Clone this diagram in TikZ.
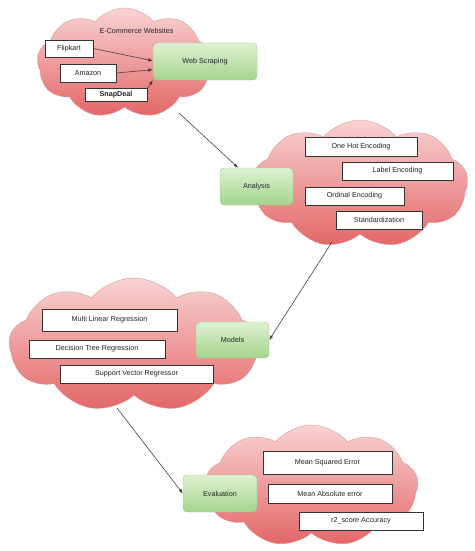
\documentclass[tikz,border=0pt]{standalone}
\usepackage{fontspec}
\setmainfont{Liberation Sans}
\usetikzlibrary{shapes.symbols,arrows.meta,calc}
\definecolor{cloudtop}{HTML}{F8D2D2}
\definecolor{cloudbot}{HTML}{E46666}
\definecolor{cloudline}{HTML}{D99A9A}
\definecolor{greentop}{HTML}{DDF1D2}
\definecolor{greenbot}{HTML}{A4D48C}
\definecolor{greenline}{HTML}{9CC78A}
\definecolor{boxline}{HTML}{333333}
\definecolor{arrowcol}{HTML}{404040}
\definecolor{txt}{HTML}{222222}
\begin{document}
\begin{tikzpicture}[x=1pt,y=-1pt,
  font=\fontsize{7.2}{8.6}\selectfont, text=txt,
  cloudbg/.style={cloud, cloud puffs=9, cloud puff arc=100, draw=cloudline, top color=cloudtop, bottom color=cloudbot, inner sep=0pt},
  greenbox/.style={draw=greenline, rounded corners=4pt, top color=greentop, bottom color=greenbot, inner sep=0pt},
  whitebox/.style={draw=boxline, fill=white, inner sep=0pt, line width=0.6pt},
  conn/.style={draw=arrowcol, line width=0.6pt, -{Latex[length=4.5pt,width=3.5pt]}},
]
\useasboundingbox (0,0) rectangle (474,551);
% clouds
\node[cloudbg, minimum width=175pt, minimum height=110pt] (c1) at (124.5,63) {};
\node[cloudbg, minimum width=216pt, minimum height=128pt] (c2) at (360,184) {};
\node[cloudbg, minimum width=250pt, minimum height=134pt] (c3) at (134,345) {};
\node[cloudbg, minimum width=213pt, minimum height=122pt] (c4) at (311.5,486) {};
% cloud 1
\node (ecom) at (136.5,31) {E-Commerce Websites};
\node[whitebox, minimum width=48pt, minimum height=17pt] (flip) at (69,48.5) {Flipkart};
\node[whitebox, minimum width=56pt, minimum height=18pt] (amaz) at (88,73) {Amazon};
\node[whitebox, minimum width=62pt, minimum height=13pt, font=\fontsize{7.2}{8.6}\selectfont\bfseries] (snap) at (116,94.5) {SnapDeal};
\node[greenbox, minimum width=104pt, minimum height=37pt] (web) at (205,61.5) {Web Scraping};
% cloud 2
\node[greenbox, minimum width=73pt, minimum height=37pt] (ana) at (256.5,186.5) {Analysis};
\node[whitebox, minimum width=112pt, minimum height=19pt] (ohe) at (361,146.5) {One Hot Encoding};
\node[whitebox, minimum width=111pt, minimum height=18pt] (le) at (397.5,171) {Label Encoding};
\node[whitebox, minimum width=99pt, minimum height=18pt] (oe) at (354.5,196) {Ordinal Encoding};
\node[whitebox, minimum width=86pt, minimum height=18pt] (std) at (379,220) {Standardization};
% cloud 3
\node[whitebox, minimum width=135pt, minimum height=22pt] (mlr) at (109.5,320) {Multi Linear Regression};
\node[whitebox, minimum width=136pt, minimum height=18pt] (dtr) at (97,349) {Decision Tree Regression};
\node[whitebox, minimum width=153pt, minimum height=18pt] (svr) at (136.5,374) {Support Vector Regressor};
\node[greenbox, minimum width=73pt, minimum height=36pt] (mod) at (232.5,340) {Models};
% cloud 4
\node[greenbox, minimum width=74pt, minimum height=37pt] (eval) at (220,493.5) {Evaluation};
\node[whitebox, minimum width=129pt, minimum height=23pt] (mse) at (327.5,462.5) {Mean Squared Error};
\node[whitebox, minimum width=124pt, minimum height=19pt] (mae) at (330,493.5) {Mean Absolute error};
\node[whitebox, minimum width=124pt, minimum height=18pt] (r2) at (361,521) {r2\_score Accuracy};
% connectors
\coordinate (s1) at (179,113);
\coordinate (s2) at (332,242);
\coordinate (s3) at (117,408);
\draw[conn] (flip.east) -- ($(web.north west)!0.48!(web.south west)$);
\draw[conn] (amaz.east) -- ($(web.north west)!0.72!(web.south west)$);
\draw[conn] ($(snap.north east)+(0,1)$) -- (web.south west);
\draw[conn] (s1) -- ($(ana.north west)!0.25!(ana.north east)$);
\draw[conn] (s2) -- (mod.east);
\draw[conn] (s3) -- (eval.west);
\end{tikzpicture}
\end{document}
